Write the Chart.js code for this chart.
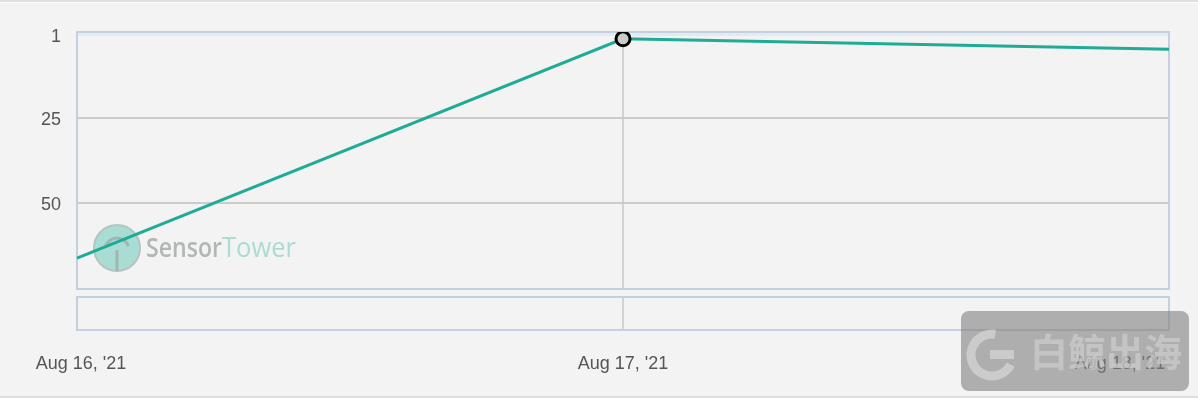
<!DOCTYPE html>
<html>
<head>
<meta charset="utf-8">
<script src="https://cdn.jsdelivr.net/npm/chart.js@4"></script>
<style>
  html, body { margin: 0; padding: 0; background: #f3f3f3; }
  #wrap { width: 1198px; height: 401px; position: relative; }
</style>
</head>
<body>
<div id="wrap"><canvas id="myChart" width="1198" height="401"></canvas></div>
<script>
const fechas = ["Aug 16, '21", "Aug 17, '21", "Aug 18, '21"];
const ranking = [66, 2, 5];
const ticksY = [1, 25, 50];
const puntoActivo = 1; // Aug 17 tiene marcador

const fondoYMarcas = {
  id: "fondoYMarcas",
  beforeDraw(chart) {
    const ctx = chart.ctx;
    ctx.save();
    ctx.fillStyle = "#f3f3f3";
    ctx.fillRect(0, 0, chart.width, chart.height);
    ctx.fillStyle = "#dedede";
    ctx.fillRect(0, 0, chart.width, 2);
    ctx.fillRect(0, 396, chart.width, 2);
    ctx.fillStyle = "#ffffff";
    ctx.fillRect(0, 2, chart.width, 1);
    ctx.fillRect(0, 398, chart.width, 3);
    ctx.restore();
  },
  beforeDatasetsDraw(chart) {
    const ctx = chart.ctx;
    const a = chart.chartArea;
    const x = chart.scales.x;
    ctx.save();
    // vertical grid at Aug 17
    const xm = x.getPixelForValue(1);
    ctx.strokeStyle = "#c9c9c9";
    ctx.lineWidth = 1.5;
    ctx.beginPath();
    ctx.moveTo(xm, a.top);
    ctx.lineTo(xm, a.bottom);
    ctx.stroke();
    // marco
    ctx.fillStyle = "#e4eaf3";
    ctx.fillRect(a.left, a.top + 1, a.right - a.left, 3);
    ctx.strokeStyle = "#c3d0df";
    ctx.lineWidth = 2;
    ctx.strokeRect(a.left, a.top, a.right - a.left, a.bottom - a.top);
    // panel navegador
    const nTop = a.bottom + 8, nBot = a.bottom + 41;
    ctx.strokeStyle = "#c9c9c9";
    ctx.lineWidth = 1.5;
    ctx.beginPath();
    ctx.moveTo(xm, nTop);
    ctx.lineTo(xm, nBot);
    ctx.stroke();
    ctx.strokeStyle = "#c3d0df";
    ctx.lineWidth = 2;
    ctx.strokeRect(a.left, nTop, a.right - a.left, nBot - nTop);
    // etiquetas x
    ctx.fillStyle = "#555555";
    ctx.font = "18px 'Liberation Sans', Arial, sans-serif";
    ctx.textAlign = "center";
    ctx.textBaseline = "middle";
    fechas.forEach((f, i) => {
      let px = x.getPixelForValue(i);
      px = Math.min(Math.max(px, 81), 1120);
      ctx.fillText(f, px, 364);
    });
    // logo SensorTower
    ctx.beginPath();
    ctx.arc(117, 248, 23, 0, Math.PI * 2);
    ctx.fillStyle = "#a9ddd4";
    ctx.fill();
    ctx.strokeStyle = "#b5c4c1";
    ctx.lineWidth = 2;
    ctx.stroke();
    ctx.strokeStyle = "#9fb7b2";
    ctx.lineWidth = 3;
    ctx.beginPath();
    ctx.arc(117, 250, 12, Math.PI * 1.1, Math.PI * 1.9);
    ctx.stroke();
    ctx.beginPath();
    ctx.moveTo(117, 250);
    ctx.lineTo(117, 271);
    ctx.stroke();
    ctx.font = "600 27px 'Open Sans', sans-serif";
    ctx.textAlign = "left";
    ctx.textBaseline = "alphabetic";
    ctx.fillStyle = "#b3b6b6";
    ctx.fillText("Sensor", 146, 257, 76);
    ctx.font = "27px 'Open Sans', sans-serif";
    ctx.fillStyle = "#abdcd3";
    ctx.fillText("Tower", 222, 257, 74);
    ctx.restore();
  },
  afterDraw(chart) {
    const ctx = chart.ctx;
    ctx.save();
    ctx.fillStyle = "rgba(130,130,130,0.62)";
    ctx.beginPath();
    ctx.roundRect(961, 311, 228, 80, 8);
    ctx.fill();
    ctx.strokeStyle = "rgba(210,210,210,0.8)";
    ctx.lineWidth = 9;
    ctx.beginPath();
    ctx.arc(992, 355, 21, Math.PI * 0.15, Math.PI * 1.55);
    ctx.stroke();
    ctx.fillStyle = "rgba(210,210,210,0.8)";
    ctx.fillRect(990, 350, 24, 9);
    ctx.fillStyle = "rgba(205,205,205,0.7)";
    ctx.font = "bold 38px 'Noto Sans CJK SC', sans-serif";
    ctx.textAlign = "left";
    ctx.textBaseline = "middle";
    ctx.fillText("白鲸出海", 1030, 352, 155);
    ctx.restore();
  }
};

const ctx = document.getElementById("myChart");
new Chart(ctx, {
  type: "line",
  data: {
    labels: fechas,
    datasets: [{
      data: ranking,
      borderColor: "#1fab96",
      borderWidth: 3,
      tension: 0,
      pointRadius: ranking.map((v, i) => i === puntoActivo ? 7 : 0),
      pointBackgroundColor: "#cccccc",
      pointBorderColor: "#000000",
      pointBorderWidth: 3
    }]
  },
  options: {
    responsive: false,
    animation: false,
    layout: { padding: { left: 0, top: 32, right: 29, bottom: 112 } },
    plugins: { legend: { display: false }, tooltip: { enabled: false } },
    scales: {
      x: {
        type: "category",
        offset: false,
        display: false
      },
      y: {
        reverse: true,
        min: 0,
        max: 75,
        afterBuildTicks(scale) {
          scale.ticks = ticksY.map(v => ({ value: v }));
        },
        afterFit(scale) { scale.width = 77; },
        border: { display: false },
        grid: {
          drawTicks: false,
          color: ctx => ctx.tick && ctx.tick.value === 1 ? "rgba(0,0,0,0)" : "#cccccc",
          lineWidth: 2
        },
        ticks: {
          color: "#555555",
          padding: 16,
          labelOffset: 2,
          font: { size: 18, family: "'Liberation Sans', Arial, sans-serif" }
        }
      }
    }
  },
  plugins: [fondoYMarcas]
});
</script>
</body>
</html>
